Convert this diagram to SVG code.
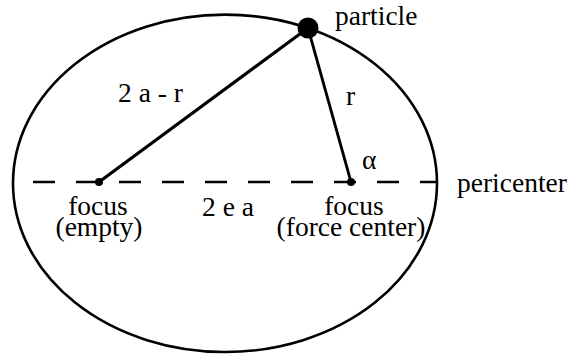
<svg xmlns="http://www.w3.org/2000/svg" width="572" height="354" viewBox="0 0 572 354">
<style>
text{font-family:'Liberation Serif','Times New Roman',Times,serif;font-size:27.5px;fill:#000}
.m{text-anchor:middle}
.ln{stroke:#000;fill:none}
</style>
<rect width="572" height="354" fill="#fff"/>
<g id="orbit">
<ellipse class="ln" cx="225" cy="183.3" rx="212" ry="168.7" stroke-width="2.6"/>
</g>
<g id="connectors">
<line class="ln" x1="33" y1="182" x2="437" y2="182" stroke-width="2.4" stroke-dasharray="22 21"/>
<line class="ln" x1="99" y1="182" x2="308" y2="28" stroke-width="3.2"/>
<line class="ln" x1="351" y1="182" x2="308" y2="28" stroke-width="2.8"/>
</g>
<g id="particle">
<circle cx="308" cy="28" r="10.5" fill="#000"/>
<text x="335" y="25">particle</text>
</g>
<g id="focus-empty">
<circle cx="99" cy="182" r="4" fill="#000"/>
<text class="m" x="98" y="215">focus</text>
<text class="m" x="99" y="236">(empty)</text>
</g>
<g id="focus-force">
<circle cx="351" cy="182" r="4" fill="#000"/>
<text class="m" x="354" y="215">focus</text>
<text class="m" x="351" y="236">(force center)</text>
</g>
<g id="labels">
<text x="118" y="102">2 a - r</text>
<text x="346" y="105">r</text>
<text x="362" y="169">α</text>
<text class="m" x="228" y="216">2 e a</text>
<text x="457" y="192">pericenter</text>
</g>
</svg>
